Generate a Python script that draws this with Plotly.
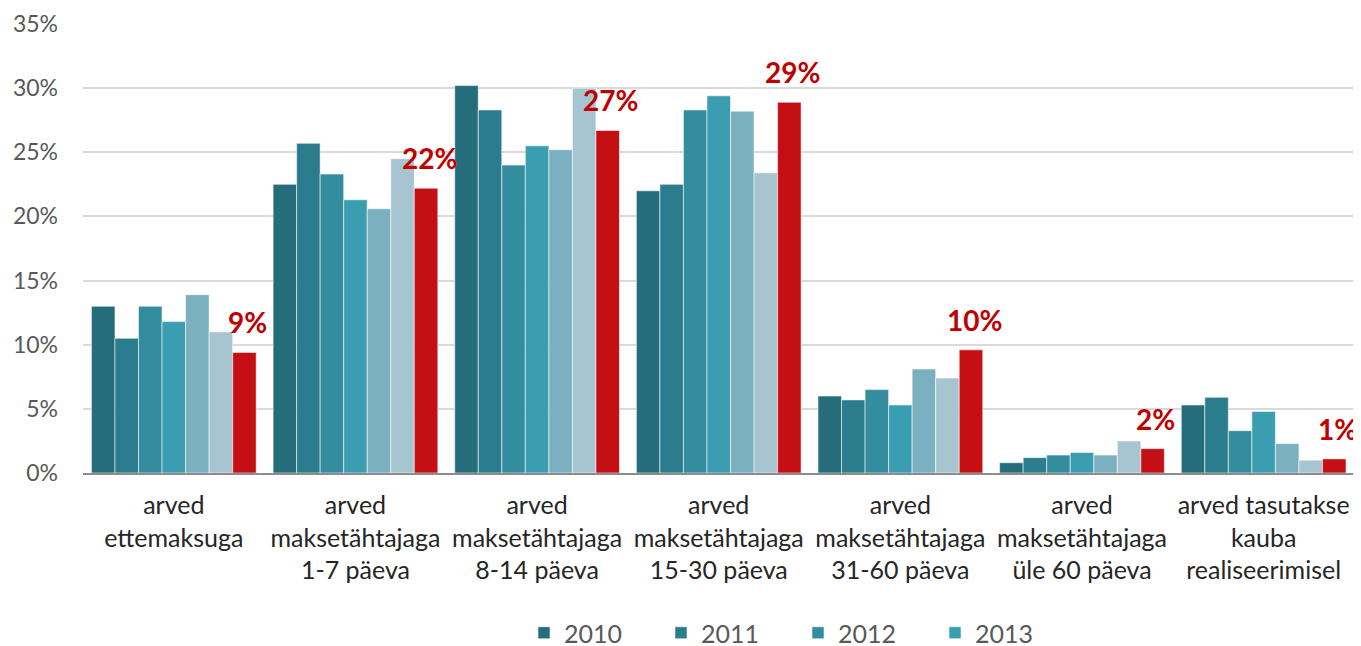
import plotly.graph_objects as go

categories = [
    "arved<br>ettemaksuga",
    "arved<br>maksetähtajaga<br>1-7 päeva",
    "arved<br>maksetähtajaga<br>8-14 päeva",
    "arved<br>maksetähtajaga<br>15-30 päeva",
    "arved<br>maksetähtajaga<br>31-60 päeva",
    "arved<br>maksetähtajaga<br>üle 60 päeva",
    "arved tasutakse<br>kauba<br>realiseerimisel",
]

years = ["2010", "2011", "2012", "2013", "2014", "2015", "2016"]

v2010 = [0.130, 0.225, 0.302, 0.220, 0.060, 0.008, 0.053]
v2011 = [0.105, 0.257, 0.283, 0.225, 0.057, 0.012, 0.059]
v2012 = [0.130, 0.233, 0.240, 0.283, 0.065, 0.014, 0.033]
v2013 = [0.118, 0.213, 0.255, 0.294, 0.053, 0.016, 0.048]
v2014 = [0.139, 0.206, 0.252, 0.282, 0.081, 0.014, 0.023]
v2015 = [0.110, 0.245, 0.300, 0.234, 0.074, 0.025, 0.010]
v2016 = [0.094, 0.222, 0.267, 0.289, 0.096, 0.019, 0.011]

series = [v2010, v2011, v2012, v2013, v2014, v2015, v2016]
colors = ["#256d7b", "#2b7d8d", "#338d9e", "#3a9db0", "#7ab0c0", "#a6c5d1", "#c41015"]
legend_shown = [True, True, True, True, False, False, False]

fig = go.Figure()
for name, vals, col, show in zip(years, series, colors, legend_shown):
    fig.add_trace(go.Bar(
        name=name, x=categories, y=vals,
        marker=dict(color=col, line=dict(color="rgba(255,255,255,0.55)", width=1)),
        showlegend=show,
    ))

# page body has an 8px default margin; compensate so the plot sits where the reference has it
W, H = 1353, 638
ml, mt, mb = 75, 16, 173
plot_w = 1276
mr = W - ml - plot_w
plot_h = H - mt - mb

n = len(years)
group_w = plot_w / len(categories)
bargap = 0.093
bar_w = group_w * (1 - bargap) / n
red_shift = (n - 1 - (n - 1) / 2) * bar_w + 3

for cat, val in zip(categories, v2016):
    fig.add_annotation(
        x=cat, y=val, xref="x", yref="y",
        text=f"{round(val*100):.0f}%",
        showarrow=False, xshift=red_shift, yshift=11, yanchor="bottom",
        font=dict(family="Lato", size=28, color="#c00000", weight="bold"),
    )

fig.update_layout(
    width=W, height=H,
    margin=dict(l=ml, r=mr, t=mt, b=mb, autoexpand=False),
    barmode="group", bargap=bargap, bargroupgap=0,
    plot_bgcolor="white", paper_bgcolor="white",
    font=dict(family="Lato", color="#595959"),
    legend=dict(
        orientation="h", x=(524 - 83) / plot_w, xanchor="left",
        y=-(633 - 473) / plot_h, yanchor="middle",
        bgcolor="rgba(0,0,0,0)",
        font=dict(size=25, color="#595959"),
        entrywidth=92, entrywidthmode="pixels",
        itemclick=False,
    ),
    xaxis=dict(
        showgrid=False, showline=True, linecolor="#8c8c8c", linewidth=2,
        tickfont=dict(size=25, color="#262626"),
        ticks="outside", ticklen=0, ticklabelstandoff=9,
        automargin=False,
    ),
    yaxis=dict(
        range=[0, 0.35], dtick=0.05, tickformat=".0%",
        showgrid=True, gridcolor="#d9d9d9", gridwidth=2,
        zeroline=False, showline=False,
        tickfont=dict(size=23, color="#595959"),
        ticklabelstandoff=24, automargin=False,
    ),
)

fig.write_html("out.html")
